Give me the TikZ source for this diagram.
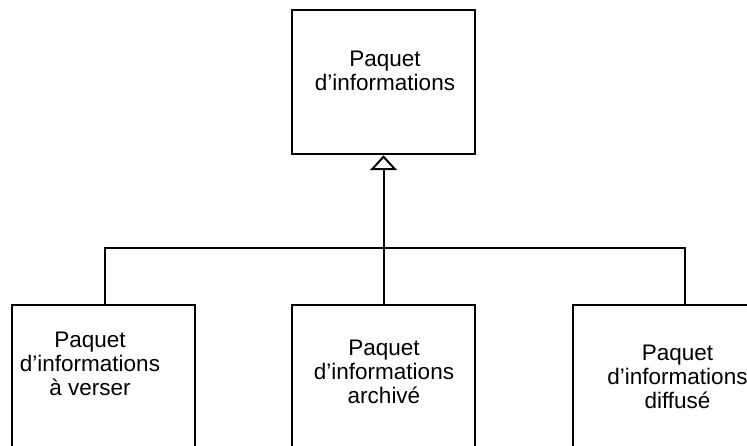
\documentclass[tikz,border=0pt]{standalone}
\usepackage{fontspec}
\setmainfont{Liberation Sans}
\usetikzlibrary{arrows.meta}

\tikzset{
  paquet/.style={draw, line width=2pt, minimum width=183pt, inner sep=0pt},
  libelle/.style={align=center, inner sep=0pt, font=\fontsize{22.5}{24}\selectfont},
  herite/.style={-{Triangle[open, length=15pt, width=27pt]}, line width=2pt},
  trait/.style={line width=2pt}
}

\begin{document}
\begin{tikzpicture}[x=1pt,y=-1pt]
     \useasboundingbox (0,0) rectangle (747,446);
     \node[paquet, minimum height=144.5pt] (pq)  at (383.5, 82.0) {};
     \node[paquet, minimum height=200pt]   (pqv) at (103.5,405.0) {};
     \node[paquet, minimum height=200pt]   (pqa) at (383.5,405.0) {};
     \node[paquet, minimum height=200pt]   (pqd) at (664.5,405.0) {};
     \node[libelle] (tpq)  at (385.0, 70.5) {Paquet\\d’informations};
     \node[libelle] (tpqv) at ( 90.0,363.8) {Paquet\\d’informations\\à verser};
     \node[libelle] (tpqa) at (384.0,371.5) {Paquet\\d’informations\\archivé};
     \node[libelle] (tpqd) at (677.5,377.1) {Paquet\\d’informations\\diffusé};
     \coordinate (bus) at (383.5,248.5);
     \draw[herite] (pqa.north) -- (pq.south);
     \draw[trait] ([xshift=1.5pt]pqv.north) |- (bus) -| ([xshift=20.5pt]pqd.north);
\end{tikzpicture}
\end{document}
